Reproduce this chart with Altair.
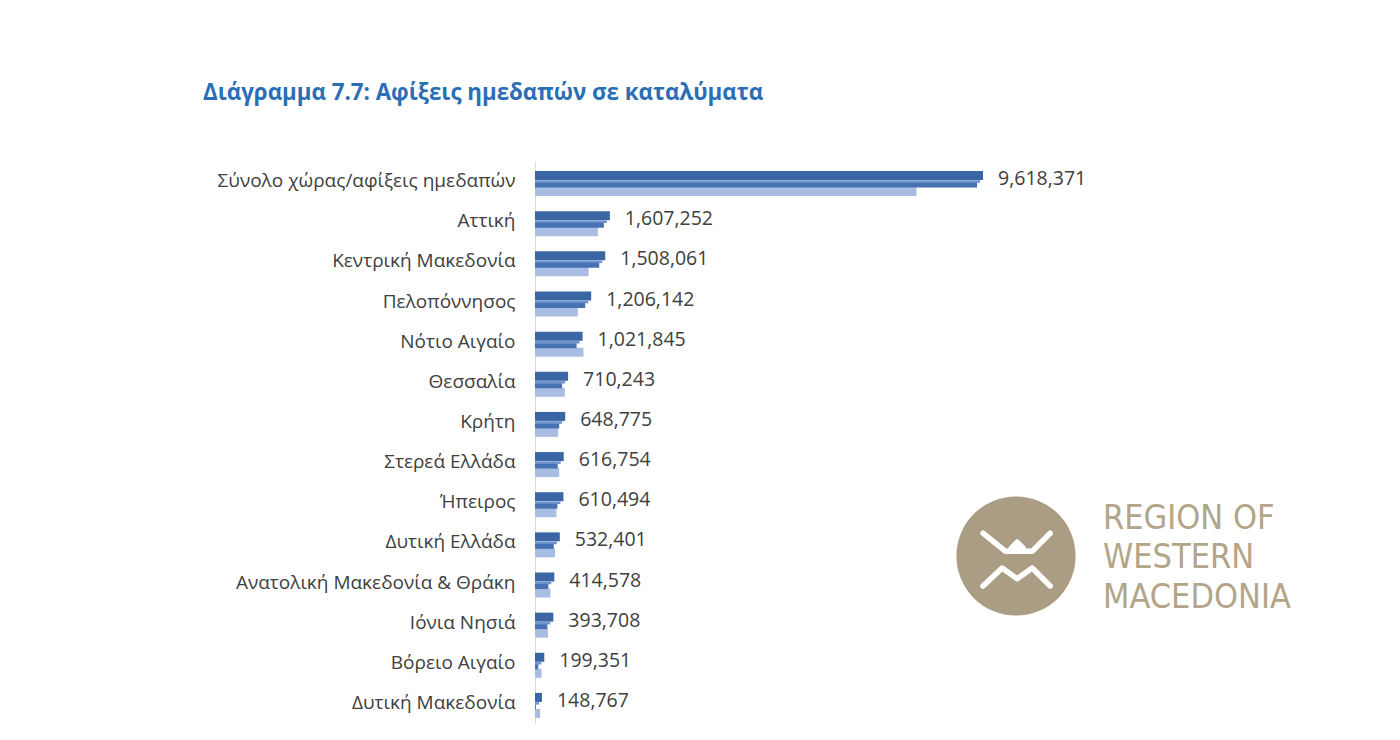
import altair as alt
import pandas as pd

title_text = "Διάγραμμα 7.7: Αφίξεις ημεδαπών σε καταλύματα"

categories = [
    "Σύνολο χώρας/αφίξεις ημεδαπών",
    "Αττική",
    "Κεντρική Μακεδονία",
    "Πελοπόννησος",
    "Νότιο Αιγαίο",
    "Θεσσαλία",
    "Κρήτη",
    "Στερεά Ελλάδα",
    "Ήπειρος",
    "Δυτική Ελλάδα",
    "Ανατολική Μακεδονία & Θράκη",
    "Ιόνια Νησιά",
    "Βόρειο Αιγαίο",
    "Δυτική Μακεδονία",
]
arrivals = [9618371, 1607252, 1508061, 1206142, 1021845, 710243, 648775,
            616754, 610494, 532401, 414578, 393708, 199351, 148767]
# second (unlabelled, lighter) series
comparison = [8190000, 1350000, 1150000, 920000, 1040000, 640000, 500000,
              520000, 460000, 430000, 330000, 280000, 140000, 110000]

logo_lines = ["REGION OF", "WESTERN", "MACEDONIA"]

df = pd.DataFrame({"region": categories, "arrivals": arrivals, "comparison": comparison})

xs = alt.Scale(domain=[0, 12000000])
ys = alt.Y(
    "region:N",
    sort=categories,
    scale=alt.Scale(paddingInner=0, paddingOuter=0),
    axis=alt.Axis(
        title=None, ticks=False, labelFont="Open Sans", labelFontSize=19,
        labelColor="#404040", labelPadding=20, domainColor="#d9d9d9",
        labelLimit=400,
    ),
)

base = alt.Chart(df).encode(y=ys)

light = base.mark_bar(size=9, yOffset=10.5, color="#a9bde2").encode(
    x=alt.X("comparison:Q", scale=xs, axis=None, stack=None))
dark_top = base.mark_bar(size=9, yOffset=-5.5, color="#3a66a5").encode(
    x=alt.X("arrivals:Q", scale=xs, axis=None, stack=None))
stripe = base.mark_bar(size=2.5, yOffset=0.5, xOffset=-3, color="#6f93cd").encode(
    x=alt.X("arrivals:Q", scale=xs, axis=None, stack=None))
dark_low = base.mark_bar(size=5, yOffset=4, xOffset=-6, color="#4672b3").encode(
    x=alt.X("arrivals:Q", scale=xs, axis=None, stack=None))

labels = base.mark_text(
    align="left", baseline="middle", dx=15, dy=-2,
    font="Open Sans", fontSize=19.5, color="#404040",
).encode(
    x=alt.X("arrivals:Q", scale=xs, axis=None, stack=None),
    text=alt.Text("arrivals:Q", format=","),
)

title = alt.Chart(pd.DataFrame({"t": [title_text]})).mark_text(
    align="left", baseline="middle", font="Open Sans", fontSize=22.3,
    fontWeight="bold", color="#2a6fb6",
).encode(x=alt.value(-332), y=alt.value(-68), text="t:N")

one = pd.DataFrame({"a": [0]})
logo_circle = alt.Chart(one).mark_point(
    shape="circle", filled=True, size=14200, color="#ab9d83", opacity=1,
).encode(x=alt.value(481), y=alt.value(395))

icon_path = ("M -0.55 -0.38 L -0.18 -0.08 L 0.27 -0.08 L 0.57 -0.38 "
             "M -0.08 -0.13 L 0.02 -0.23 L 0.12 -0.13 Z "
             "M -0.55 0.5 L -0.23 0.2 L 0.02 0.38 L 0.27 0.2 L 0.57 0.5")
logo_icon = alt.Chart(one).mark_point(
    shape=icon_path, filled=False, size=14400, color="white", strokeWidth=5.5,
    strokeCap="round", strokeJoin="round", opacity=1,
).encode(x=alt.value(481), y=alt.value(395))

logo_text_layers = []
for line, yy in zip(logo_lines, [358, 397, 437]):
    logo_text_layers.append(
        alt.Chart(pd.DataFrame({"t": [line]})).mark_text(
            align="left", baseline="middle",
            font="DejaVu Sans Condensed, DejaVu Sans",
            fontSize=34, color="#b3a588",
        ).encode(x=alt.value(568), y=alt.value(yy), text="t:N")
    )

chart = alt.layer(
    light, dark_top, stripe, dark_low, labels, title,
    logo_circle, logo_icon, *logo_text_layers,
).properties(
    width=559, height=562,
    padding={"left": 535, "top": 161, "right": 306, "bottom": 17},
    autosize=alt.AutoSizeParams(type="none"),
    background="white",
).configure_view(stroke=None)

chart.save("out.html", embed_options={"renderer": "svg", "actions": False})
